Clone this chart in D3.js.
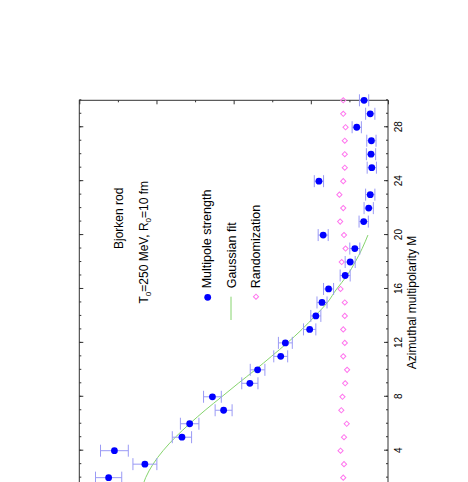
<!DOCTYPE html>
<html>
<head>
<meta charset="utf-8">
<script src="https://cdn.jsdelivr.net/npm/d3@7"></script>
<style>
  html, body { margin: 0; padding: 0; background: #fff; overflow: hidden; }
  svg { display: block; }
  text { font-family: "Liberation Sans", Arial, Helvetica, sans-serif; }
</style>
</head>
<body>
<svg id="chart" width="468" height="482"></svg>
<script>
// ---- data ----
const multipolarity = [2,3,4,5,6,7,8,9,10,11,12,13,14,15,16,17,18,19,20,21,22,23,24,25,26,27,28,29,30];
const strength = [0.0724,0.0630,0.0709,0.0534,0.0514,0.0426,0.0455,0.0358,0.0338,0.0278,0.0266,0.0203,0.0187,0.0171,0.0154,0.0111,0.0098,0.0086,0.0168,0.0063,0.0050,0.0046,0.0179,0.0042,0.0044,0.0043,0.0081,0.0046,0.0062];
const strengthErr = [0.0034,0.0031,0.0036,0.0025,0.0024,0.0022,0.0023,0.0021,0.0019,0.0018,0.0018,0.0016,0.0013,0.0013,0.0013,0.0013,0.0013,0.0013,0.0013,0.0012,0.0012,0.0012,0.0012,0.0012,0.0012,0.0012,0.0012,0.0012,0.0012];
const randomization = [0.0116,0.0114,0.0123,0.0114,0.0107,0.0121,0.0118,0.0111,0.0106,0.0116,0.0112,0.0116,0.0112,0.0112,0.0123,0.0112,0.0120,0.0110,0.0114,0.0124,0.0116,0.0126,0.0116,0.0112,0.0112,0.0112,0.0110,0.0116,0.0116];
const fitM = [1,2,3,4,5,6,7,8,9,10,11,12,13,14,15,16,17,18,19,20];
const fitValues = [0.0640,0.0628,0.0609,0.0583,0.0551,0.0514,0.0474,0.0431,0.0388,0.0344,0.0302,0.0261,0.0223,0.0189,0.0157,0.0133,0.0106,0.0085,0.0067,0.0052];
const xMajorTicks = [4,8,12,16,20,24,28];
const xTickLabels = ["4","8","12","16","20","24","28"];
const yMajorTicks = [0,0.02,0.04,0.06,0.08];
const yMinorTicks = [0.01,0.03,0.05,0.07];
const legendLabels = ["Multipole strength","Gaussian fit","Randomization"];

// ---- layout (rotated frame) ----
const ox = 79.3, oy = 504.6;          // local origin on screen
const W = 404.3, H = 308.7;           // local plot width (M) and height (strength)
const frameColor = "#333";
const blue = "#0000ff", errColor = "#9a9af5", fitColor = "#86d46e", randColor = "#ff77ee";

const svg = d3.select("#chart");
const g = svg.append("g").attr("transform", `translate(${ox},${oy}) rotate(-90)`);

const x = d3.scaleLinear().domain([0, 30]).range([0, W]);
const y = d3.scaleLinear().domain([0, 0.08]).range([H, 0]);

// frame
g.append("rect").attr("x", 0).attr("y", 0).attr("width", W).attr("height", H)
  .attr("fill", "none").attr("stroke", frameColor).attr("stroke-width", 1);

// bottom axis (M) with labels
const xAxis = g.append("g").attr("transform", `translate(0,${H})`)
  .call(d3.axisBottom(x).tickValues(xMajorTicks).tickSize(-4).tickPadding(7)
    .tickFormat((d, i) => xTickLabels[i]));
xAxis.select(".domain").remove();
xAxis.selectAll("line").attr("stroke", frameColor);
xAxis.selectAll("text").attr("font-size", 10).attr("fill", "#000")
  .attr("font-family", "Liberation Sans, Arial, sans-serif");

const allM = d3.range(1, 31);
const xMinor = g.append("g").attr("transform", `translate(0,${H})`)
  .call(d3.axisBottom(x).tickValues(allM).tickSize(-2).tickFormat(""));
xMinor.select(".domain").remove();
xMinor.selectAll("line").attr("stroke", frameColor);

// top mirror axis (M)
const xTop = g.append("g")
  .call(d3.axisTop(x).tickValues(xMajorTicks).tickSize(-4).tickFormat(""));
xTop.select(".domain").remove();
xTop.selectAll("line").attr("stroke", frameColor);
const xTopMinor = g.append("g")
  .call(d3.axisTop(x).tickValues(allM).tickSize(-2).tickFormat(""));
xTopMinor.select(".domain").remove();
xTopMinor.selectAll("line").attr("stroke", frameColor);

// right mirror axis (strength)
const yRight = g.append("g").attr("transform", `translate(${W},0)`)
  .call(d3.axisRight(y).tickValues(yMajorTicks).tickSize(-4).tickFormat(""));
yRight.select(".domain").remove();
yRight.selectAll("line").attr("stroke", frameColor);
const yRightMinor = g.append("g").attr("transform", `translate(${W},0)`)
  .call(d3.axisRight(y).tickValues(yMinorTicks).tickSize(-2).tickFormat(""));
yRightMinor.select(".domain").remove();
yRightMinor.selectAll("line").attr("stroke", frameColor);

// axis title
g.append("text").attr("x", W / 2).attr("y", H + 28).attr("text-anchor", "middle")
  .attr("font-size", 12).attr("fill", "#000").text("Azimuthal multipolarity M");

// randomization diamonds
const diamond = d3.symbol().type(d3.symbolSquare).size(13.5);
g.selectAll("path.rand").data(multipolarity).join("path")
  .attr("class", "rand")
  .attr("d", diamond)
  .attr("transform", (d, i) => `translate(${x(d)},${y(randomization[i])}) rotate(45)`)
  .attr("fill", "none").attr("stroke", randColor).attr("stroke-width", 1);

// gaussian fit
const line = d3.line().x((d, i) => x(d)).y((d, i) => y(fitValues[i])).curve(d3.curveMonotoneX);
g.append("path").datum(fitM).attr("d", line)
  .attr("fill", "none").attr("stroke", fitColor).attr("stroke-width", 1);

// error bars
const cap = 6;
const eb = g.selectAll("g.err").data(multipolarity).join("g").attr("class", "err");
eb.append("line")
  .attr("x1", d => x(d)).attr("x2", d => x(d))
  .attr("y1", (d, i) => y(strength[i] - strengthErr[i]))
  .attr("y2", (d, i) => y(strength[i] + strengthErr[i]))
  .attr("stroke", errColor).attr("stroke-width", 1);
eb.append("line")
  .attr("x1", d => x(d) - cap).attr("x2", d => x(d) + cap)
  .attr("y1", (d, i) => y(strength[i] - strengthErr[i]))
  .attr("y2", (d, i) => y(strength[i] - strengthErr[i]))
  .attr("stroke", errColor).attr("stroke-width", 1);
eb.append("line")
  .attr("x1", d => x(d) - cap).attr("x2", d => x(d) + cap)
  .attr("y1", (d, i) => y(strength[i] + strengthErr[i]))
  .attr("y2", (d, i) => y(strength[i] + strengthErr[i]))
  .attr("stroke", errColor).attr("stroke-width", 1);

// data points
g.selectAll("circle.pt").data(multipolarity).join("circle")
  .attr("class", "pt")
  .attr("cx", d => x(d)).attr("cy", (d, i) => y(strength[i]))
  .attr("r", 3.4).attr("fill", blue);

// annotation
g.append("text").attr("x", 255.6).attr("y", 44.2).attr("font-size", 12)
  .attr("fill", "#000").text("Bjorken rod");
const t = g.append("text").attr("x", 201.1).attr("y", 69.2).attr("font-size", 12).attr("fill", "#000");
t.append("tspan").text("T");
t.append("tspan").attr("font-size", 8).attr("dy", 3).text("0");
t.append("tspan").attr("dy", -3).text("=250 MeV, R");
t.append("tspan").attr("font-size", 8).attr("dy", 3).text("0");
t.append("tspan").attr("dy", -3).text("=10 fm");

// legend
const legX = 216.3;
const legY = [131.4, 156.4, 180.4];
legendLabels.forEach((lab, i) => {
  g.append("text").attr("x", legX).attr("y", legY[i]).attr("font-size", 12.5)
    .attr("fill", "#000").text(lab);
});
g.append("circle").attr("cx", 207.3).attr("cy", legY[0] - 3).attr("r", 3.4).attr("fill", blue);
g.append("line").attr("x1", 184.6).attr("x2", 207.9).attr("y1", legY[1] - 4.7).attr("y2", legY[1] - 4.7)
  .attr("stroke", fitColor).attr("stroke-width", 1);
g.append("path").attr("d", diamond)
  .attr("transform", `translate(207.9,${legY[2] - 3.7}) rotate(45)`)
  .attr("fill", "none").attr("stroke", randColor).attr("stroke-width", 1);
</script>
</body>
</html>
